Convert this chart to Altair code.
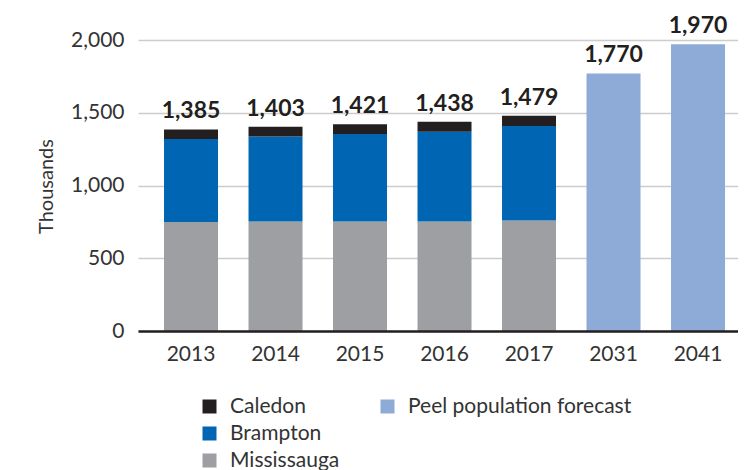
import altair as alt
import pandas as pd

years = ["2013", "2014", "2015", "2016", "2017", "2031", "2041"]
hist_years = ["2013", "2014", "2015", "2016", "2017"]
mississauga = [750, 752, 752, 752, 759]
brampton = [570, 585, 602, 618, 650]
caledon = [65, 66, 67, 68, 70]
forecast_years = ["2031", "2041"]
forecast = [1770, 1970]
totals = [1385, 1403, 1421, 1438, 1479, 1770, 1970]

cities = ["Caledon", "Brampton", "Mississauga"]
city_colors = ["#231f20", "#0066b3", "#9d9fa2"]
forecast_name = "Peel population forecast"
forecast_color = "#8eabd8"

FONT = "Lato"
TXT = "#333333"

rows = []
for i, yr in enumerate(hist_years):
    rows.append({"year": yr, "city": "Mississauga", "value": mississauga[i], "ord": 0})
    rows.append({"year": yr, "city": "Brampton", "value": brampton[i], "ord": 1})
    rows.append({"year": yr, "city": "Caledon", "value": caledon[i], "ord": 2})
df_hist = pd.DataFrame(rows)
df_fc = pd.DataFrame({"year": forecast_years, "value": forecast, "series": [forecast_name] * 2})
df_tot = pd.DataFrame({"year": years, "total": totals})

xscale = alt.Scale(domain=years, paddingInner=0.361, paddingOuter=0.2308, align=0.667)
yscale = alt.Scale(domain=[0, 2000])

x_axis = alt.Axis(title=None, labelFont=FONT, labelFontSize=21, labelColor=TXT,
                  labelPadding=12, ticks=False, domainColor="#231f20", domainWidth=2.5,
                  labelAngle=0, zindex=1, grid=False)
y_axis = alt.Axis(title="Thousands", values=[0, 500, 1000, 1500, 2000], format=",.0f",
                  labelFont=FONT, labelFontSize=21, labelColor=TXT, labelPadding=14,
                  ticks=False, domain=False, grid=True, gridColor="#cccccc", gridWidth=1.3,
                  titleFont=FONT, titleFontSize=20, titleFontWeight="normal", titleColor=TXT,
                  titleX=-92, titleY=146, titleAngle=-90, titleAlign="center",
                  titleBaseline="middle")

def legend(x):
    return alt.Legend(orient="none", legendX=x, legendY=356, title=None,
                      symbolType="square", symbolSize=196, symbolStrokeWidth=0,
                      labelFont=FONT, labelFontSize=21, labelColor=TXT, labelLimit=400,
                      labelOffset=10, rowPadding=5, padding=0, direction="vertical")

stack = alt.Chart(df_hist).mark_bar().encode(
    x=alt.X("year:N", scale=xscale, axis=x_axis),
    y=alt.Y("value:Q", stack=True, scale=yscale, axis=y_axis),
    color=alt.Color("city:N", scale=alt.Scale(domain=cities, range=city_colors),
                    legend=legend(61)),
    order=alt.Order("ord:Q"),
)

fc = alt.Chart(df_fc).mark_bar().encode(
    x=alt.X("year:N", scale=xscale, axis=x_axis),
    y=alt.Y("value:Q", scale=yscale, axis=y_axis),
    color=alt.Color("series:N", scale=alt.Scale(domain=[forecast_name], range=[forecast_color]),
                    legend=legend(239)),
)

labels = alt.Chart(df_tot).mark_text(font=FONT, fontSize=23, fontWeight="bold",
                                     color="#231f20", baseline="alphabetic", dy=-11).encode(
    x=alt.X("year:N", scale=xscale, axis=x_axis),
    y=alt.Y("total:Q", scale=yscale, axis=y_axis),
    text=alt.Text("total:Q", format=","),
)

chart = alt.layer(stack, fc, labels).resolve_scale(color="independent").properties(
    width=600, height=291,
    autosize=alt.AutoSizeParams(type="none"),
    padding={"left": 130, "top": 32, "right": 0, "bottom": 139},
).configure_view(stroke=None)

chart.save("out.html", embed_options={"renderer": "svg", "actions": False})
